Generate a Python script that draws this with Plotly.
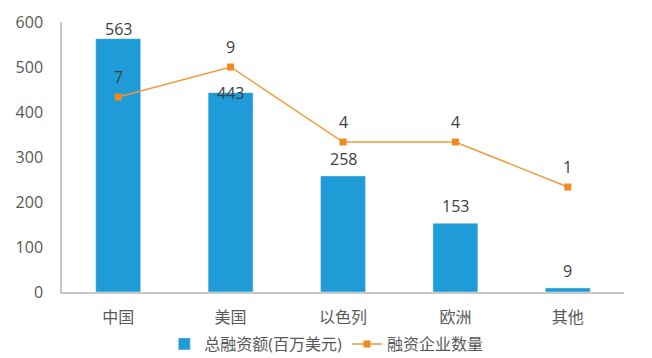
import plotly.graph_objects as go

categories = ["中国", "美国", "以色列", "欧洲", "其他"]
total_funding = [563, 443, 258, 153, 9]
company_count = [7, 9, 4, 4, 1]
y_ticks = [0, 100, 200, 300, 400, 500, 600]

FONT = "Open Sans, Noto Sans CJK SC, sans-serif"
BAR_COLOR = "#1f9bd7"
LINE_COLOR = "#f29a38"
MARKER_COLOR = "#ee8a1e"
TEXT_COLOR = "#404040"
TICK_COLOR = "#595959"

bar_label_shift = [10, 0, 17, 17, 17]
line_label_shift = 20

fig = go.Figure()
fig.add_trace(go.Bar(
    x=categories, y=total_funding, name="总融资额(百万美元)",
    marker=dict(color=BAR_COLOR), width=0.4,
))
fig.add_trace(go.Scatter(
    x=categories, y=company_count, name="融资企业数量", yaxis="y2",
    mode="lines+markers",
    line=dict(color=LINE_COLOR, width=1.5),
    marker=dict(color=MARKER_COLOR, size=7, symbol="square"),
))

annotations = []
for c, v, s in zip(categories, total_funding, bar_label_shift):
    annotations.append(dict(x=c, y=v, xref="x", yref="y", text=str(v),
                            showarrow=False, yshift=s,
                            font=dict(size=16, color=TEXT_COLOR, family=FONT)))
for c, v in zip(categories, company_count):
    annotations.append(dict(x=c, y=v, xref="x", yref="y2", text=str(v),
                            showarrow=False, yshift=line_label_shift,
                            font=dict(size=16, color=TEXT_COLOR, family=FONT)))

# page body has an 8px default margin, so the figure is sized to fit the window
fig.update_layout(
    width=644, height=350,
    margin=dict(l=54, r=28, t=14, b=66, autoexpand=False),
    paper_bgcolor="white", plot_bgcolor="white",
    font=dict(family=FONT, size=16, color=TICK_COLOR),
    showlegend=True,
    legend=dict(orientation="h", x=0.182, xanchor="left",
                yref="container", y=0.04, yanchor="middle",
                font=dict(size=16, color=TICK_COLOR),
                itemwidth=30, tracegroupgap=0, bgcolor="rgba(0,0,0,0)"),
    xaxis=dict(showgrid=False, showline=True, linecolor="#c8c8c8", linewidth=1.5,
               ticks="", ticklabelstandoff=10,
               tickfont=dict(size=16, color=TICK_COLOR)),
    yaxis=dict(range=[0, 600], tickvals=y_ticks, showgrid=False, zeroline=False,
               showline=True, linecolor="#c8c8c8", linewidth=1.5,
               ticks="", ticklabelstandoff=14,
               tickfont=dict(size=16, color=TICK_COLOR)),
    yaxis2=dict(range=[-6, 12], overlaying="y", side="right", visible=False),
    annotations=annotations,
)

fig.write_html("out.html")
